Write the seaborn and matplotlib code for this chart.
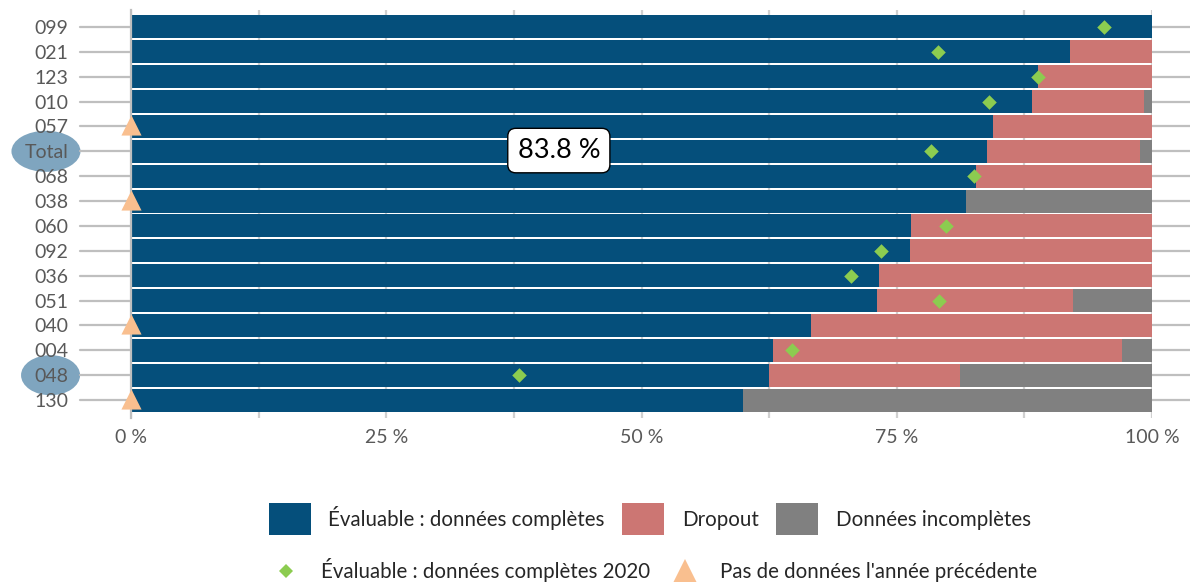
import numpy as np
import pandas as pd
import matplotlib
matplotlib.use("Agg")
import matplotlib.pyplot as plt
import seaborn as sns
from matplotlib.patches import Patch, Ellipse
from matplotlib.lines import Line2D

# ---------------- data ----------------
categories = ['099', '021', '123', '010', '057', 'Total', '068', '038',
              '060', '092', '036', '051', '040', '004', '048', '130']
complete = [100.0, 92.0, 88.8, 88.2, 84.4, 83.8, 82.8, 81.8,
            76.4, 76.3, 73.3, 73.1, 66.6, 62.9, 62.5, 59.9]
dropout = [0.0, 8.0, 11.2, 11.0, 15.6, 15.0, 17.2, 0.0,
           23.6, 23.7, 26.7, 19.2, 33.4, 34.2, 18.7, 0.0]
incomplete = [0.0, 0.0, 0.0, 0.8, 0.0, 1.2, 0.0, 18.2,
              0.0, 0.0, 0.0, 7.7, 0.0, 2.9, 18.8, 40.1]
complete_2020 = [95.3, 79.0, 88.8, 84.0, np.nan, 78.4, 82.6, np.nan,
                 79.8, 73.5, 70.5, 79.1, np.nan, 64.7, 38.0, np.nan]
no_previous = [False, False, False, False, True, False, False, True,
               False, False, False, False, True, False, False, True]
highlighted = ['Total', '048']
x_ticks = [0, 25, 50, 75, 100]
x_labels = ['0 %', '25 %', '50 %', '75 %', '100 %']
total_label = '83.8 %'
legend_bars = ['Évaluable : données complètes', 'Dropout', 'Données incomplètes']
legend_marks = ['Évaluable : données complètes 2020', "Pas de données l'année précédente"]

# ---------------- style ----------------
BLUE = '#054f7b'
RED = '#cc7673'
GRAY = '#808080'
GREEN = '#8ccc50'
ORANGE = '#f9bf8f'
ELLIPSE = '#7fa5bf'
LINE = '#bfbfbf'
TXT = '#595959'

sns.set_theme(style='white')
plt.rcParams['font.family'] = ['Lato', 'DejaVu Sans']

fig = plt.figure(figsize=(11.9, 5.82), dpi=100)
ax = fig.add_axes([0.1101, 0.2818, 0.858, 0.701])

df = pd.DataFrame({'cat': categories, 'complete': complete,
                   'dropout': dropout, 'incomplete': incomplete})
df['upto_drop'] = df['complete'] + df['dropout']
df['upto_all'] = df['upto_drop'] + df['incomplete']

for col, color in [('upto_all', GRAY), ('upto_drop', RED), ('complete', BLUE)]:
    sns.barplot(data=df, x=col, y='cat', order=categories, orient='h',
                color=color, saturation=1, width=0.92, linewidth=0,
                errorbar=None, ax=ax, zorder=2)

pos = np.arange(len(categories))
c20 = np.array(complete_2020, dtype=float)
valid = ~np.isnan(c20)
sns.scatterplot(x=c20[valid], y=pos[valid], marker='D', s=55, color=GREEN,
                linewidth=0, ax=ax, zorder=5, legend=False)
npv = np.array(no_previous)
sns.scatterplot(x=np.zeros(npv.sum()), y=pos[npv] - 0.06, marker='^', s=210,
                color=ORANGE, linewidth=0, ax=ax, zorder=6, legend=False,
                clip_on=False)

# horizontal guide lines (behind the bars, visible at the sides)
for p in pos:
    ax.axhline(p, xmin=-0.05, xmax=1.037, color=LINE, lw=1.6,
               zorder=0.45, clip_on=False)

ax.set_xlim(0, 100)
ax.set_ylim(15.72, -0.68)
ax.set_xticks(x_ticks)
ax.set_xticklabels(x_labels)
ax.set_xticks([12.5, 37.5, 62.5, 87.5], minor=True)
ax.grid(axis='x', which='both', color='#d0d0d0', lw=1.6)
ax.grid(axis='y', visible=False)
ax.set_axisbelow(True)
ax.set_xlabel('')
ax.set_ylabel('')
for s in ['top', 'right', 'bottom']:
    ax.spines[s].set_visible(False)
ax.spines['left'].set_color(LINE)
ax.spines['left'].set_linewidth(1.6)
ax.tick_params(axis='y', length=0, pad=45, labelsize=14, labelcolor=TXT)
ax.tick_params(axis='x', which='both', length=0, pad=8, labelsize=14, labelcolor=TXT)

# highlight ellipses behind labels
ytrans = ax.get_yaxis_transform()
ell_spec = {'Total': (-0.0833, 0.0676, 1.65), '048': (-0.0788, 0.0578, 1.61)}
for name in highlighted:
    cx, w, h = ell_spec[name]
    ax.add_patch(Ellipse((cx, categories.index(name)), w, h, transform=ytrans,
                         facecolor=ELLIPSE, edgecolor='none', clip_on=False, zorder=0.2))

# total annotation
ax.text(41.9, categories.index('Total') - 0.03, total_label, ha='center', va='center',
        fontsize=19.5, color='black', zorder=7,
        bbox=dict(boxstyle='round,pad=0.36,rounding_size=0.3', fc='white', ec='black', lw=1))

# legends
h1 = [Patch(facecolor=c, edgecolor='none') for c in (BLUE, RED, GRAY)]
fig.legend(h1, legend_bars, loc='center', bbox_to_anchor=(0.546, 0.108), ncol=3,
           frameon=False, fontsize=14.8, handlelength=2.05, handleheight=2.05,
           handletextpad=0.85, columnspacing=0.85)
h2 = [Line2D([], [], ls='none', marker='D', markersize=7, color=GREEN, markeredgewidth=0),
      Line2D([], [], ls='none', marker='^', markersize=17, color=ORANGE, markeredgewidth=0)]
fig.legend(h2, legend_marks, loc='center', bbox_to_anchor=(0.548, 0.021), ncol=2,
           frameon=False, fontsize=14.8, handlelength=1.9, handletextpad=0.75,
           columnspacing=0.75)

fig.savefig('out.png', dpi=100)
